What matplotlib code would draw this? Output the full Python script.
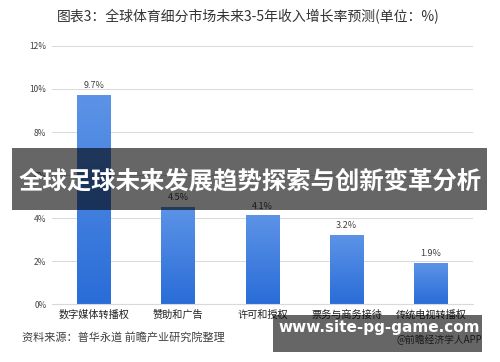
import numpy as np
import matplotlib.pyplot as plt
from matplotlib.patches import Rectangle
from matplotlib.colors import LinearSegmentedColormap

plt.rcParams['font.family'] = ['Noto Sans CJK SC', 'DejaVu Sans']

# data
categories = ['数字媒体转播权', '赞助和广告', '许可和授权', '票务与商务接待', '传统电视转播权']
growth = [9.7, 4.5, 4.1, 3.2, 1.9]
yticks = [0, 2, 4, 6, 8, 10, 12]
title = '图表3：全球体育细分市场未来3-5年收入增长率预测(单位：%)'
source = '资料来源：普华永道 前瞻产业研究院整理'
banner = '全球足球未来发展趋势探索与创新变革分析'
site = 'www.site-pg-game.com'

fig = plt.figure(figsize=(5, 3.62), dpi=100)
ax = fig.add_axes([0.104, 0.160, 0.842, 0.713])

x = np.arange(len(categories))
w = 0.4
cmap = LinearSegmentedColormap.from_list('blues', ['#2a6dd8', '#5c93e6'])
grad = np.linspace(0, 1, 100).reshape(-1, 1)
for xi, v in zip(x, growth):
    ax.imshow(grad, cmap=cmap, origin='lower', aspect='auto',
              extent=(xi - w / 2, xi + w / 2, 0, v), zorder=2)
    ax.text(xi, v + 0.25, f'{v}%', ha='center', va='bottom',
            fontsize=6.5, color='#404040')

ax.set_xlim(-0.5, len(categories) - 0.5)
ax.set_ylim(0, 12)
ax.set_yticks(yticks)
ax.set_yticklabels([f'{t}%' for t in yticks], fontsize=6, color='#404040')
ax.set_xticks(x)
ax.set_xticklabels(categories, fontsize=7.3, color='#202020')
ax.tick_params(length=0, pad=4)
ax.grid(axis='y', color='#d9d9d9', linewidth=0.7, zorder=0)
for s in ['top', 'right', 'left']:
    ax.spines[s].set_visible(False)
ax.spines['bottom'].set_color('#d9d9d9')

fig.text(0.496, 0.955, title, ha='center', va='center', fontsize=10, color='#333333')
fig.text(0.044, 0.069, source, ha='left', va='center', fontsize=8, color='#404040')
fig.text(0.965, 0.06, '@前瞻经济学人APP', ha='right', va='center', fontsize=7, color='#404040')

# dark overlays
fig.patches.append(Rectangle((0.024, 0.42), 0.95, 0.171, transform=fig.transFigure,
                             facecolor='black', alpha=0.6, zorder=10))
fig.text(0.5, 0.50, banner, ha='center', va='center', fontsize=17.6, fontweight='bold',
         color='white', zorder=11)
fig.patches.append(Rectangle((0.546, 0.028), 0.418, 0.102, transform=fig.transFigure,
                             facecolor='black', alpha=0.6, zorder=10))
fig.text(0.758, 0.094, site, ha='center', va='center', fontsize=11, fontweight='bold',
         color='white', family='DejaVu Sans', zorder=11)

fig.savefig('out.png', dpi=100)
